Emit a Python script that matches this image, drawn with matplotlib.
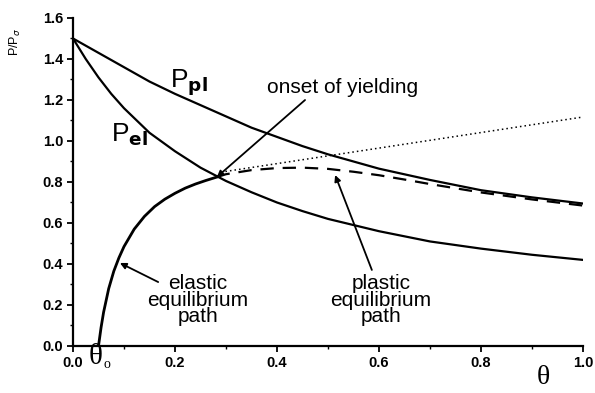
import matplotlib
matplotlib.use("Agg")
import matplotlib.pyplot as plt
from matplotlib.ticker import MultipleLocator

plt.rcParams["font.family"] = ["Liberation Sans", "DejaVu Sans"]

# rotation theta and load ratio for each branch
theta_grid = [0.0, 0.025, 0.05, 0.075, 0.10, 0.15, 0.20, 0.25, 0.30, 0.35,
              0.40, 0.45, 0.50, 0.60, 0.70, 0.80, 0.90, 1.00]
p_pl = [1.50, 1.465, 1.43, 1.395, 1.36, 1.29, 1.23, 1.175, 1.12, 1.065,
        1.02, 0.975, 0.935, 0.865, 0.81, 0.76, 0.725, 0.695]
p_el = [1.50, 1.40, 1.31, 1.23, 1.16, 1.04, 0.95, 0.87, 0.805, 0.75,
        0.70, 0.658, 0.62, 0.56, 0.51, 0.475, 0.445, 0.42]

theta_elastic = [0.05, 0.055, 0.06, 0.07, 0.08, 0.09, 0.10, 0.12, 0.14,
                 0.16, 0.18, 0.20, 0.22, 0.24, 0.26, 0.282]
p_elastic = [0.0, 0.09, 0.165, 0.28, 0.365, 0.43, 0.485, 0.57, 0.632,
             0.68, 0.716, 0.745, 0.77, 0.79, 0.807, 0.824]

theta_plastic = [0.282, 0.30, 0.35, 0.40, 0.45, 0.50, 0.55, 0.60, 0.65,
                 0.70, 0.80, 0.90, 1.00]
p_plastic = [0.824, 0.838, 0.858, 0.868, 0.870, 0.864, 0.85, 0.833, 0.812,
             0.79, 0.749, 0.715, 0.685]

theta_rigid = [0.29, 1.00]
p_rigid = [0.848, 1.117]

theta_onset, p_onset = 0.282, 0.824

fig = plt.figure(figsize=(5.95, 3.93), dpi=100)
ax = fig.add_axes([0.1227, 0.1196, 0.8571, 0.8346])

ax.plot(theta_grid, p_pl, color="black", lw=1.6)
ax.plot(theta_grid, p_el, color="black", lw=1.6)
ax.plot(theta_elastic, p_elastic, color="black", lw=2.0)
ax.plot(theta_plastic, p_plastic, color="black", lw=1.6, ls=(0, (6, 4)))
ax.plot(theta_rigid, p_rigid, color="black", lw=1.1, ls=(0, (1, 2)))

ax.set_xlim(0, 1.0)
ax.set_ylim(0, 1.6)
ax.spines["top"].set_visible(False)
ax.spines["right"].set_visible(False)
for s in ("left", "bottom"):
    ax.spines[s].set_linewidth(1.6)
ax.xaxis.set_major_locator(MultipleLocator(0.2))
ax.xaxis.set_minor_locator(MultipleLocator(0.1))
ax.yaxis.set_major_locator(MultipleLocator(0.2))
ax.yaxis.set_minor_locator(MultipleLocator(0.1))
ax.xaxis.set_major_formatter(lambda v, p: f"{v:.1f}")
ax.yaxis.set_major_formatter(lambda v, p: f"{v:.1f}")
ax.tick_params(which="major", direction="out", length=4, width=1.3,
               labelsize=10.5, pad=3)
ax.tick_params(which="minor", direction="out", length=2.5, width=1.0)
for lab in ax.get_xticklabels() + ax.get_yticklabels():
    lab.set_fontweight("bold")

# axis titles
fig.text(15 / 595, 1 - 42 / 393, r"P/P$_\sigma$", fontsize=9, rotation=90,
         ha="center", va="center")
fig.text(543 / 595, 1 - 378 / 393, "θ", fontsize=20, ha="center",
         va="center", family="Liberation Serif")
fig.text(96 / 595, 1 - 357 / 393, "θ", fontsize=21, ha="center",
         va="center", family="Liberation Serif")
fig.text(107 / 595, 1 - 364 / 393, "o", fontsize=10, ha="center",
         va="center", family="Liberation Serif")

ax.text(0.227, 1.285, r"P$_{\mathbf{pl}}$", fontsize=19, ha="center",
        va="center")
ax.text(0.11, 1.03, r"P$_{\mathbf{el}}$", fontsize=19, ha="center",
        va="center")

arrow = dict(arrowstyle="-|>", color="black", lw=1.3, mutation_scale=9,
             shrinkA=0, shrinkB=0)
text_kw = dict(fontsize=15, ha="center", va="center", linespacing=0.82)

ax.text(0.529, 1.259, "onset of yielding", **text_kw)
ax.annotate("", xy=(theta_onset, p_onset), xytext=(0.455, 1.20),
            arrowprops=arrow)

ax.text(0.245, 0.224, "elastic\nequilibrium\npath", **text_kw)
ax.annotate("", xy=(0.092, 0.405), xytext=(0.167, 0.312), arrowprops=arrow)

ax.text(0.604, 0.224, "plastic\nequilibrium\npath", **text_kw)
ax.annotate("", xy=(0.514, 0.834), xytext=(0.586, 0.371), arrowprops=arrow)

fig.savefig("out.png", dpi=100)
